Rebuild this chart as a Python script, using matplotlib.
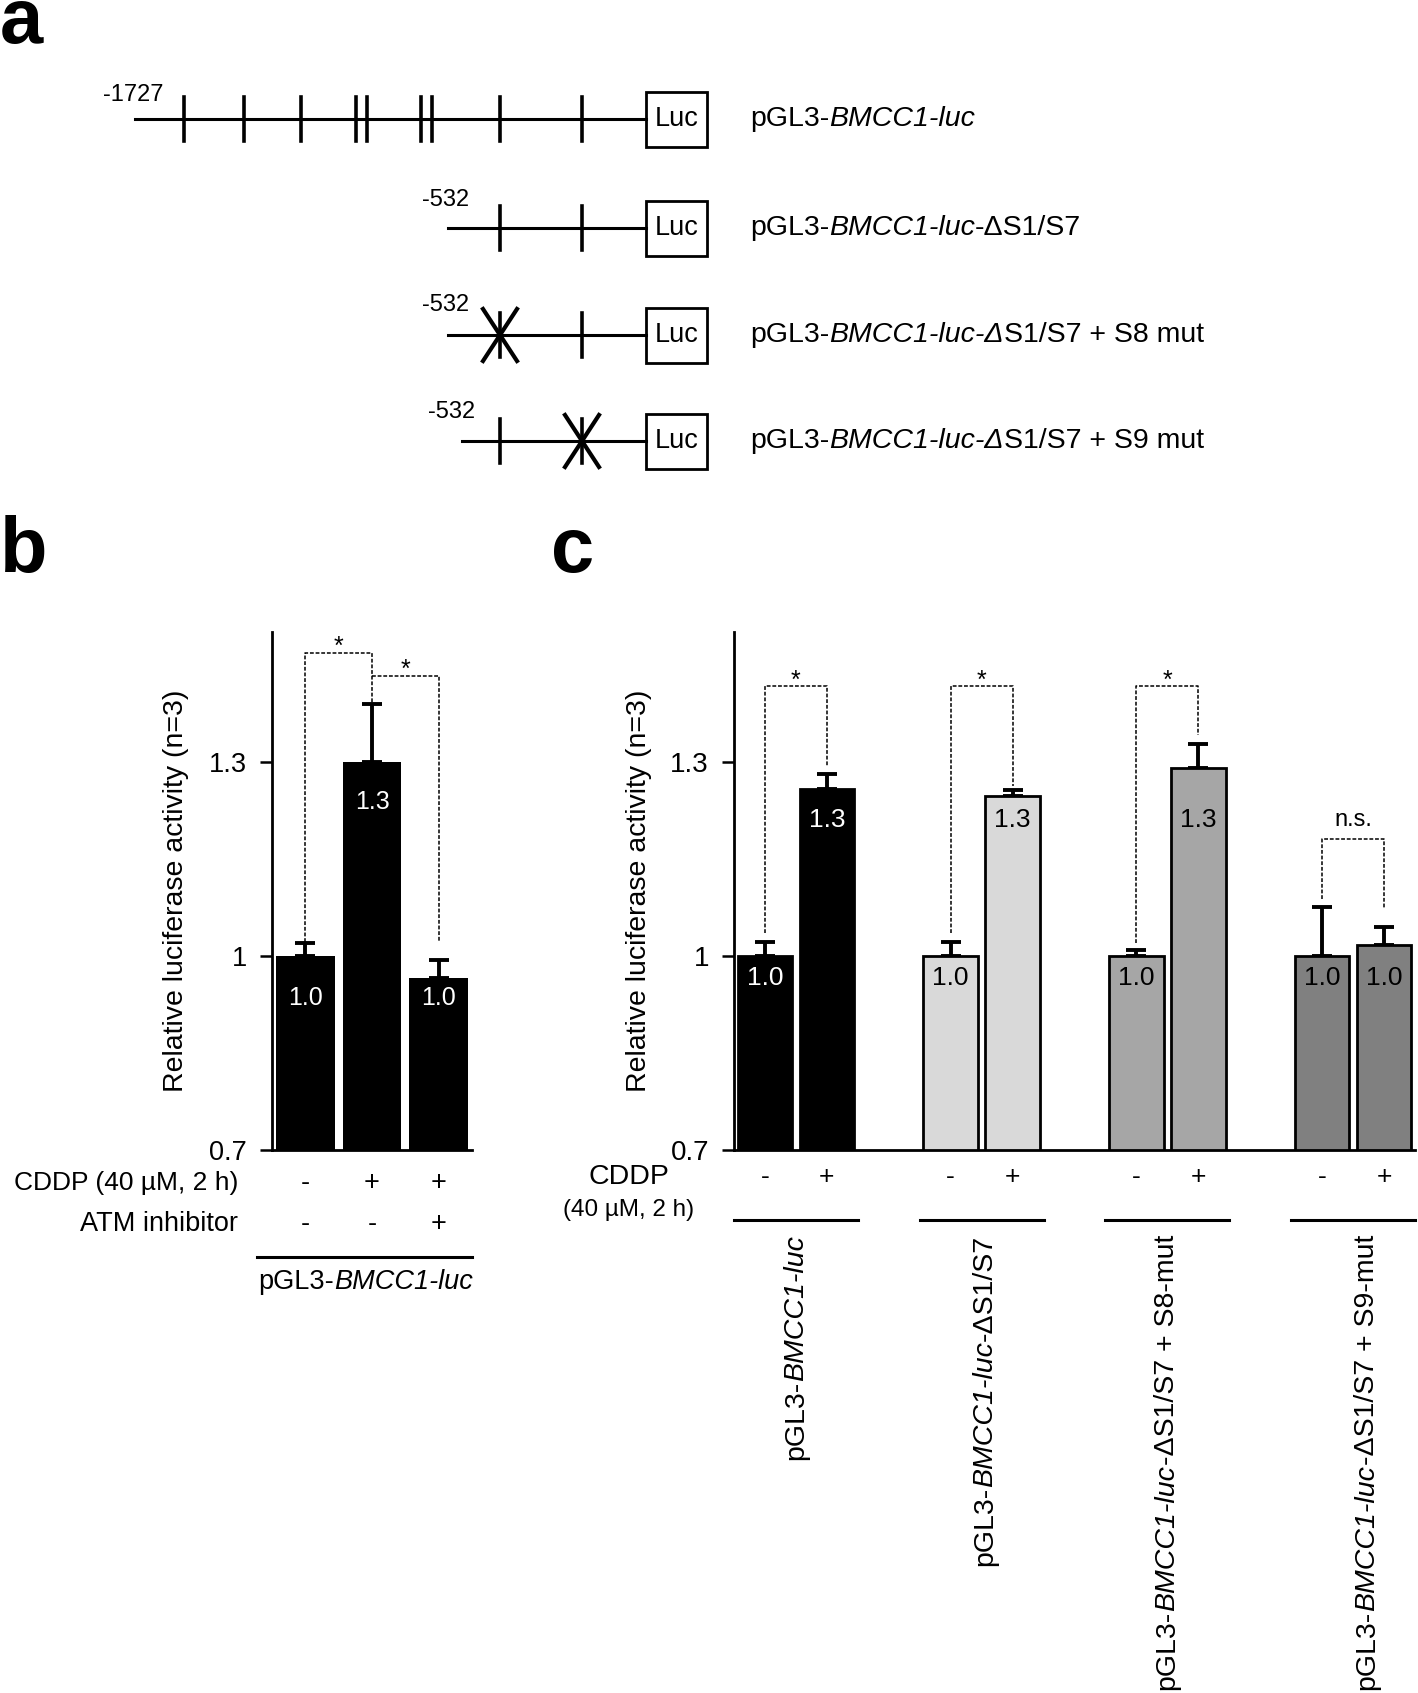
import matplotlib
matplotlib.use('Agg')
import matplotlib.pyplot as plt
from matplotlib.patches import Rectangle
from matplotlib.transforms import blended_transform_factory
import numpy as np

# ---- data ----
# panel a: promoter constructs (schematic)
a_names = [
    [('pGL3-', 'normal'), ('BMCC1-luc', 'italic')],
    [('pGL3-', 'normal'), ('BMCC1-luc', 'italic'), ('-\u0394S1/S7', 'normal')],
    [('pGL3-', 'normal'), ('BMCC1-luc-\u0394', 'italic'), ('S1/S7 + S8 mut', 'normal')],
    [('pGL3-', 'normal'), ('BMCC1-luc-\u0394', 'italic'), ('S1/S7 + S9 mut', 'normal')],
]
a_starts = ['-1727', '-532', '-532', '-532']
a_sites = [[0, 1, 2, 3, 4, 5, 6, 7, 8], [7, 8], [7, 8], [7, 8]]
a_mutated = [[], [], [7], [8]]

# panel b
b_means = [1.0, 1.30, 0.965]
b_err = [0.019, 0.089, 0.028]
b_text = ['1.0', '1.3', '1.0']
b_cddp = ['-', '+', '+']
b_atm = ['-', '-', '+']
b_brackets = [(0, 1, 1.021, 1.468, 1.389, '*'), (1, 2, 1.432, 1.432, 1.021, '*')]

# panel c
c_groups = [
    [('pGL3-', 'normal'), ('BMCC1-luc', 'italic')],
    [('pGL3-', 'normal'), ('BMCC1-luc', 'italic'), ('-\u0394S1/S7', 'normal')],
    [('pGL3-', 'normal'), ('BMCC1-luc', 'italic'), ('-\u0394S1/S7 + S8-mut', 'normal')],
    [('pGL3-', 'normal'), ('BMCC1-luc', 'italic'), ('-\u0394S1/S7 + S9-mut', 'normal')],
]
c_means = [1.0, 1.258, 1.0, 1.246, 1.0, 1.29, 1.0, 1.016]
c_err = [0.022, 0.023, 0.022, 0.010, 0.009, 0.037, 0.075, 0.028]
c_text = ['1.0', '1.3', '1.0', '1.3', '1.0', '1.3', '1.0', '1.0']
c_cddp = ['-', '+'] * 4
c_colors = ['#000000', '#d9d9d9', '#a6a6a6', '#808080']
c_brackets = [(1.035, 1.416, 1.293, '*'), (1.035, 1.416, 1.262, '*'),
              (1.020, 1.416, 1.341, '*'), (1.088, 1.181, 1.074, 'n.s.')]

REG = ['Liberation Sans', 'DejaVu Sans']
NAR = ['Liberation Sans Narrow', 'Liberation Sans', 'DejaVu Sans']

W, H = 1418, 1693
fig = plt.figure(figsize=(W / 100, H / 100), dpi=100)
ov = fig.add_axes([0, 0, 1, 1])
ov.set_xlim(0, W)
ov.set_ylim(H, 0)
ov.axis('off')


def rich(ax, x, y, parts, size, family, **kw):
    t = ax.text(x, y, parts[0][0], style=parts[0][1], fontsize=size,
                family=family, va='center', ha='left', **kw)
    for s, st in parts[1:]:
        t = ax.annotate(s, xy=(1, 0), xycoords=t, va='bottom', ha='left',
                        style=st, fontsize=size, family=family)
    return t


def rich_vert(ax, x, y, parts, size, family, transform):
    # text reads bottom to top; its end sits at y
    rev = parts[::-1]
    t = ax.text(x, y, rev[0][0], style=rev[0][1], fontsize=size, family=family,
                rotation=90, va='top', ha='center', transform=transform)
    for s, st in rev[1:]:
        t = ax.annotate(s, xy=(0.5, 0), xycoords=t, va='top', ha='center',
                        rotation=90, style=st, fontsize=size, family=family)
    return t


# panel letters
for lab, x, y in [('a', 0, 43), ('b', 0, 572), ('c', 551, 572)]:
    ov.text(x, y, lab, fontsize=56, fontweight='bold', family=REG,
            ha='left', va='baseline')

# ---- panel a ----
site_x = [184, 244, 301, 356, 367, 421, 432, 500, 582]
row_y = [119, 228, 335, 441]
row_x0 = [135, 448, 448, 462]
label_y = [95, 200, 305, 412]
box_x0, box_x1, box_h = 646, 707, 55
for i in range(4):
    y = row_y[i]
    ov.plot([row_x0[i], box_x0], [y, y], color='black', lw=2.2)
    for s in a_sites[i]:
        x = site_x[s]
        ov.plot([x, x], [y - 22, y + 22], color='black', lw=2.6)
        if s in a_mutated[i]:
            ov.plot([x - 17, x + 17], [y - 26, y + 26], color='black', lw=3)
            ov.plot([x - 17, x + 17], [y + 26, y - 26], color='black', lw=3)
    ov.add_patch(Rectangle((box_x0, y - box_h / 2), box_x1 - box_x0, box_h,
                           fill=False, lw=2, ec='black'))
    ov.text((box_x0 + box_x1) / 2, y, 'Luc', fontsize=19.5, family=NAR,
            ha='center', va='center')
    ov.text(row_x0[i] - 2 if i < 3 else 452, label_y[i], a_starts[i],
            fontsize=17, family=NAR, ha='center', va='center')
    rich(ov, 750, y, a_names[i], 20.5, NAR)


def style_axis(ax):
    for s in ['top', 'right']:
        ax.spines[s].set_visible(False)
    for s in ['left', 'bottom']:
        ax.spines[s].set_linewidth(2)
    ax.set_ylim(0.7, 1.5)
    ax.set_yticks([0.7, 1.0, 1.3])
    ax.set_yticklabels(['0.7', '1', '1.3'])
    ax.set_xticks([])
    ax.tick_params(axis='y', direction='out', length=9, width=1.8, pad=9)
    ax.set_ylabel('Relative luciferase activity (n=3)', fontsize=20.5,
                  family=REG)


def bracket(ax, x0, x1, yl, top, yr, label, fam, size):
    ax.plot([x0, x0, x1, x1], [yl, top, top, yr], color='black', lw=1.1,
            ls=(0, (2.5, 1.2)), clip_on=False)
    xm = (x0 + x1) / 2
    if label == '*':
        ax.text(xm, top - 0.002, label, ha='center', va='baseline',
                fontsize=18, family=fam)
    else:
        ax.text(xm, top + 0.012, label, ha='center', va='bottom',
                fontsize=size, family=fam)


# ---- panel b ----
axb = fig.add_axes([272 / W, 1 - 1150 / H, 200 / W, 518 / H])
xb = np.arange(len(b_means))
axb.bar(xb, b_means, width=0.88, color='black', zorder=2)
axb.errorbar(xb, b_means, yerr=[np.zeros(len(b_err)), b_err], fmt='none',
             ecolor='black', elinewidth=2.8, capsize=7, capthick=2.8, zorder=1)
axb.set_xlim(-0.5, 2.5)
style_axis(axb)
axb.yaxis.set_label_coords(-0.415, 0.5)
for lbl in axb.get_yticklabels():
    lbl.set_fontsize(19.5)
    lbl.set_family(REG)
for i, t in enumerate(b_text):
    axb.text(xb[i], 1.238 if t == '1.3' else 0.935, t, color='white',
             ha='center', va='center', fontsize=18, family=REG)
for x0, x1, yl, top, yr, lab in b_brackets:
    bracket(axb, x0, x1, yl, top, yr, lab, REG, 17)

tb = blended_transform_factory(axb.transData, ov.transData)
for i in range(len(b_means)):
    axb.text(xb[i], 1183, b_cddp[i], transform=tb, ha='center', va='center',
             fontsize=19.5, family=REG)
    axb.text(xb[i], 1224, b_atm[i], transform=tb, ha='center', va='center',
             fontsize=19.5, family=REG)
ov.text(238, 1183, 'CDDP (40 \u00b5M, 2 h)', fontsize=19, family=REG,
        ha='right', va='center')
ov.text(238, 1224, 'ATM inhibitor', fontsize=19.5, family=REG, ha='right',
        va='center')
ov.plot([257, 472], [1257, 1257], color='black', lw=2.2)
rich(ov, 258, 1282, [('pGL3-', 'normal'), ('BMCC1-luc', 'italic')], 19.5, REG)

# ---- panel c ----
axc = fig.add_axes([734 / W, 1 - 1150 / H, 681 / W, 518 / H])
xc = np.array([g * 3 + k for g in range(4) for k in range(2)])
cols = [c_colors[i // 2] for i in range(len(c_means))]
axc.bar(xc, c_means, width=0.88, color=cols, edgecolor='black', lw=2,
        zorder=2)
axc.errorbar(xc, c_means, yerr=[np.zeros(len(c_err)), c_err], fmt='none',
             ecolor='black', elinewidth=2.8, capsize=7, capthick=2.8, zorder=1)
axc.set_xlim(-0.5, 10.5)
style_axis(axc)
axc.yaxis.set_label_coords(-0.121, 0.5)
for lbl in axc.get_yticklabels():
    lbl.set_fontsize(20)
    lbl.set_family(NAR)
for i, t in enumerate(c_text):
    axc.text(xc[i], 1.21 if t == '1.3' else 0.965, t,
             color='white' if i < 2 else 'black', ha='center', va='center',
             fontsize=19, family=NAR)
for g, (yl, top, yr, lab) in enumerate(c_brackets):
    bracket(axc, xc[2 * g], xc[2 * g + 1], yl, top, yr, lab, NAR, 17)

tc = blended_transform_factory(axc.transData, ov.transData)
for i in range(len(c_means)):
    axc.text(xc[i], 1177, c_cddp[i], transform=tc, ha='center', va='center',
             fontsize=19, family=REG)
ov.text(629, 1177, 'CDDP', fontsize=20.5, family=NAR, ha='center',
        va='center')
ov.text(629, 1210, '(40 \u00b5M, 2 h)', fontsize=17.5, family=NAR,
        ha='center', va='center')
label_dx = [0, 0.05, 0, 0.23]
for g in range(4):
    axc.plot([g * 3 - 0.5, g * 3 + 1.5], [1220, 1220], transform=tc,
             color='black', lw=2.2, clip_on=False)
    rich_vert(ov, g * 3 + 0.5 + label_dx[g], 1235, c_groups[g], 20.5, REG, tc)

fig.savefig('out.png', dpi=100)
